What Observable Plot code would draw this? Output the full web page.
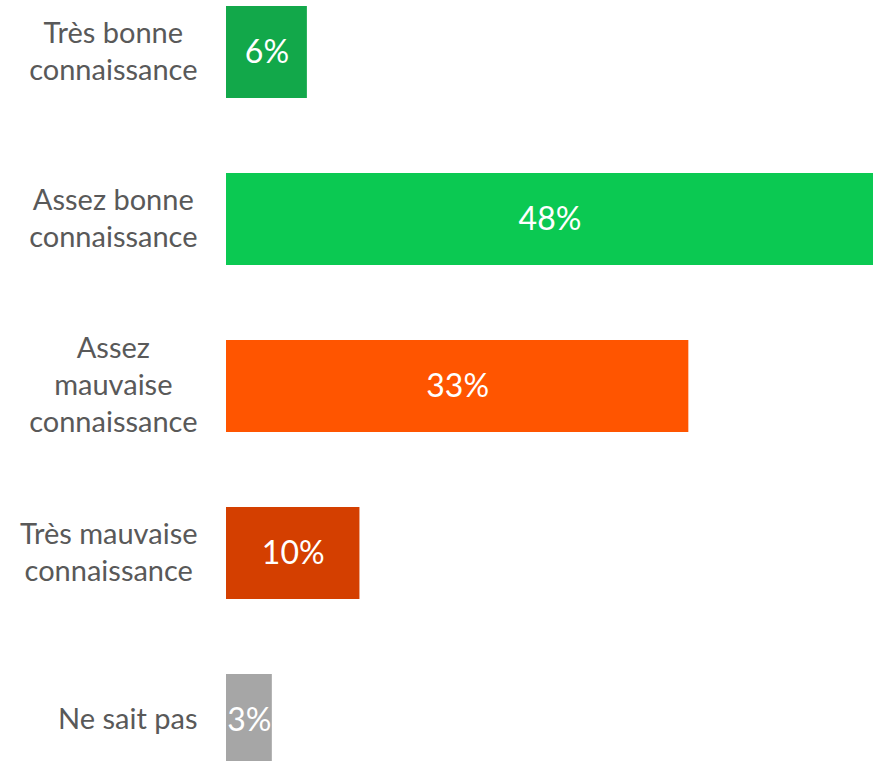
<!DOCTYPE html>
<html>
<head>
<meta charset="utf-8">
<script src="https://cdn.jsdelivr.net/npm/d3@7"></script>
<script src="https://cdn.jsdelivr.net/npm/@observablehq/plot@0.6"></script>
<style>
  html, body { margin: 0; padding: 0; overflow: hidden; background: #fff; }
  svg { display: block; }
</style>
</head>
<body>
<div id="chart"></div>
<script>
const categories = [
  "Très bonne\nconnaissance",
  "Assez bonne\nconnaissance",
  "Assez\nmauvaise\nconnaissance",
  "Très mauvaise\nconnaissance",
  "Ne sait pas"
];
const values = [6.0, 48.0, 34.3, 9.9, 3.4];
const valueLabels = ["6%", "48%", "33%", "10%", "3%"];
const colors = ["#12a84a", "#0bc952", "#ff5500", "#d43f00", "#a6a6a6"];

const FONT = "Lato, 'DejaVu Sans', sans-serif";
const FS = 29;
const VFS = 32;

const data = categories.map((c, i) => ({cat: c, value: values[i], label: valueLabels[i], color: colors[i]}));

// measure widest line of each category label, to centre each block against a common right edge
const ctx = document.createElement("canvas").getContext("2d");
ctx.font = `${FS}px Lato`;
const blockW = categories.map(c => d3.max(c.split("\n"), l => ctx.measureText(l).width));

const labelMarks = data.map((d, i) =>
  Plot.text([d], {
    x: () => 0, y: "cat", text: "cat",
    dx: -29 - blockW[i] / 2, dy: -3,
    textAnchor: "middle", lineAnchor: "middle",
    lineHeight: 37 / FS,
    fill: "#595959", fontSize: FS
  })
);

const chart = Plot.plot({
  width: 873,
  height: 770,
  marginLeft: 226,
  marginRight: 0,
  marginTop: 0,
  marginBottom: 0,
  style: {fontFamily: FONT, background: "#fff"},
  x: {domain: [0, 48], axis: null},
  y: {domain: categories, range: [4, 767], paddingInner: 0.45, paddingOuter: 0, axis: null},
  marks: [
    Plot.barX(data, {x: "value", y: "cat", fill: "color"}),
    Plot.text(data, {x: d => d.value / 2, y: "cat", text: "label", fill: "#fff", fontSize: VFS, textAnchor: "middle", lineAnchor: "middle"}),
    ...labelMarks
  ]
});
document.getElementById("chart").appendChild(chart);
</script>
</body>
</html>
